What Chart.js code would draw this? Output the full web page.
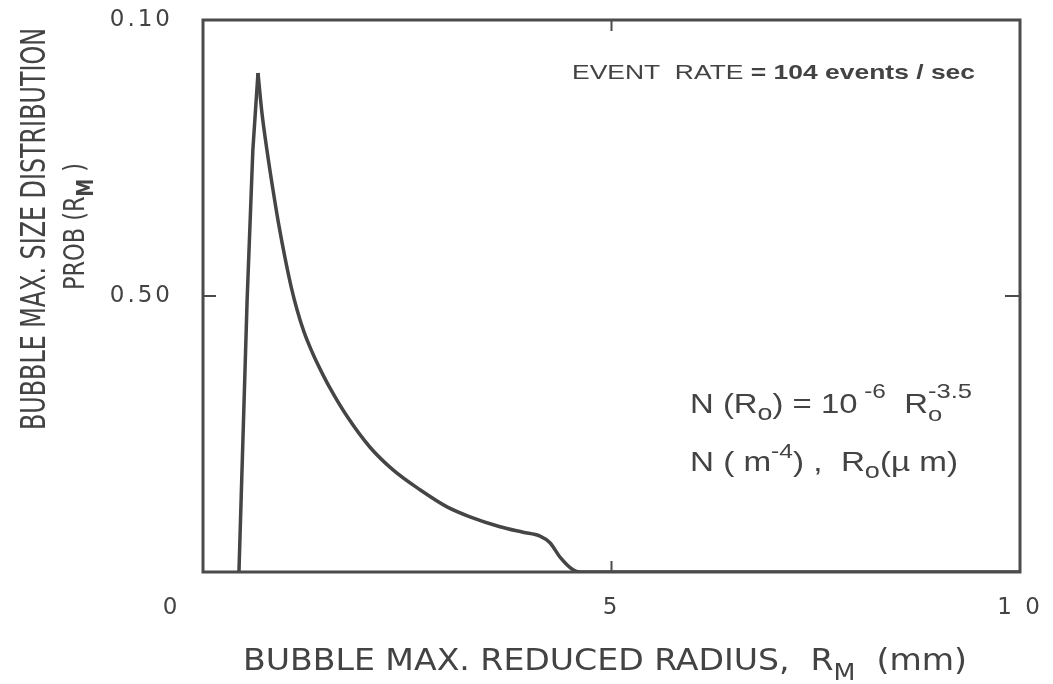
<!DOCTYPE html>
<html>
<head>
<meta charset="utf-8">
<script src="https://cdn.jsdelivr.net/npm/chart.js@4.4.1/dist/chart.umd.min.js"></script>
<style>
  html, body { margin: 0; padding: 0; background: #ffffff; }
  #wrap { width: 1053px; height: 684px; position: relative; }
</style>
</head>
<body>
<div id="wrap"><canvas id="c" width="1053" height="684"></canvas></div>
<script>
// ---- data ----
// rising edge (straight) up to the peak
const riseX = [0.44, 0.54, 0.61, 0.673];
const riseY = [0, 0.0493, 0.0764, 0.0904];
// decaying branch from the peak
const decayX = [0.673, 0.722, 0.783, 0.857, 0.930, 1.004, 1.077, 1.151, 1.236, 1.334, 1.432, 1.555, 1.763, 2.044, 2.326, 2.656, 2.987, 3.268, 3.635, 3.917, 4.125, 4.247, 4.37, 4.529, 4.614, 10];
const decayY = [0.0904, 0.0831, 0.0764, 0.0692, 0.0627, 0.0569, 0.0518, 0.0475, 0.0435, 0.0399, 0.0368, 0.0333, 0.0282, 0.0226, 0.0185, 0.0149, 0.0118, 0.0100, 0.0082, 0.0072, 0.0065, 0.0053, 0.0027, 0.0004, 0, 0];

const xTickValues = [0, 5, 10];
const xTickLabels = ['', '5', '1 0'];
const yTickValues = [0, 0.05, 0.10];
const yTickLabels = ['', '0.50', '0.10'];
const cornerLabel = '0';

const xTitle = ['BUBBLE MAX. REDUCED RADIUS,  R', 'M', '  (mm)'];
const yTitle1 = 'BUBBLE MAX. SIZE DISTRIBUTION';
const yTitle2 = ['PROB (R', 'M', ' )'];
const eventText = ['EVENT  RATE ', '= 104 events / sec'];

const INK = '#434343';
const TITLE_FONT = "'Liberation Sans Narrow', 'DejaVu Sans Condensed', 'Liberation Sans', Arial, sans-serif";
const BODY_FONT = "'Liberation Sans', Arial, sans-serif";

function drawRun(ctx, x, y, segs, family) {
  let cx = x;
  for (const s of segs) {
    ctx.font = `${s.weight || 'normal'} ${s.size}px ${family}`;
    if (s.stack) {
      const w1 = ctx.measureText(s.stack[0]).width;
      const w2 = ctx.measureText(s.stack[1]).width;
      ctx.fillText(s.stack[0], cx, y + s.dyTop);
      ctx.fillText(s.stack[1], cx, y + s.dyBot);
      cx += Math.max(w1, w2);
    } else {
      ctx.fillText(s.t, cx, y + (s.dy || 0));
      cx += ctx.measureText(s.t).width;
    }
  }
  return cx - x;
}
function runWidth(ctx, segs, family) {
  let w = 0;
  for (const s of segs) {
    ctx.font = `${s.weight || 'normal'} ${s.size}px ${family}`;
    if (s.stack) w += Math.max(ctx.measureText(s.stack[0]).width, ctx.measureText(s.stack[1]).width);
    else w += ctx.measureText(s.t).width;
  }
  return w;
}
function fitRun(ctx, x0, x1, y, segs, family) {
  const w = runWidth(ctx, segs, family);
  ctx.save();
  ctx.translate(x0, y);
  ctx.scale((x1 - x0) / w, 1);
  drawRun(ctx, 0, 0, segs, family);
  ctx.restore();
}

const decor = {
  id: 'decor',
  beforeDraw(chart) { chart.ctx.letterSpacing = '3px'; },
  beforeDatasetsDraw(chart) { chart.ctx.letterSpacing = '0px'; },
  afterDraw(chart) {
    const ctx = chart.ctx;
    const a = chart.chartArea;
    const xs = chart.scales.x, ys = chart.scales.y;
    ctx.save();
    ctx.letterSpacing = '0px';
    ctx.strokeStyle = '#4b4b4b';
    ctx.lineWidth = 3;
    ctx.strokeRect(a.left, a.top, a.right - a.left, a.bottom - a.top);
    ctx.lineWidth = 2;
    for (const v of xTickValues) {
      if (v === xs.min || v === xs.max) continue;
      const px = xs.getPixelForValue(v);
      ctx.beginPath(); ctx.moveTo(px, a.top); ctx.lineTo(px, a.top + 11); ctx.stroke();
      ctx.beginPath(); ctx.moveTo(px, a.bottom); ctx.lineTo(px, a.bottom - 11); ctx.stroke();
    }
    for (const v of yTickValues) {
      if (v === ys.min || v === ys.max) continue;
      const py = ys.getPixelForValue(v);
      ctx.beginPath(); ctx.moveTo(a.left, py); ctx.lineTo(a.left + 13, py); ctx.stroke();
      ctx.beginPath(); ctx.moveTo(a.right, py); ctx.lineTo(a.right - 15, py); ctx.stroke();
    }
    ctx.fillStyle = INK;
    ctx.textBaseline = 'alphabetic';
    ctx.font = '23px "DejaVu Sans"';
    ctx.textAlign = 'center';
    ctx.fillText(cornerLabel, xs.getPixelForValue(0) - 33, a.bottom + 42);
    ctx.textAlign = 'left';

    fitRun(ctx, 243, 967, 670, [
      {t: xTitle[0], size: 30},
      {t: xTitle[1], size: 23, dy: 10},
      {t: xTitle[2], size: 30}
    ], TITLE_FONT);

    ctx.save();
    ctx.translate(45, 430);
    ctx.rotate(-Math.PI / 2);
    fitRun(ctx, 0, 402, 0, [{t: yTitle1, size: 33}], TITLE_FONT);
    ctx.restore();
    ctx.save();
    ctx.translate(84, 290);
    ctx.rotate(-Math.PI / 2);
    fitRun(ctx, 0, 127, 0, [
      {t: yTitle2[0], size: 29},
      {t: yTitle2[1], size: 23, dy: 9, weight: 'bold'},
      {t: yTitle2[2], size: 29}
    ], TITLE_FONT);
    ctx.restore();

    fitRun(ctx, 572, 975, 79, [
      {t: eventText[0], size: 21},
      {t: eventText[1], size: 21, weight: 'bold'}
    ], BODY_FONT);

    fitRun(ctx, 690, 972, 413, [
      {t: 'N (R', size: 27},
      {t: 'o', size: 22, dy: 7},
      {t: ') = 10', size: 27},
      {t: ' -6', size: 20, dy: -15},
      {t: '  R', size: 27},
      {stack: ['-3.5', 'o'], size: 21, dyTop: -15, dyBot: 8}
    ], BODY_FONT);
    fitRun(ctx, 690, 958, 471, [
      {t: 'N ( m', size: 27},
      {t: '-4', size: 20, dy: -13},
      {t: ') ,  R', size: 27},
      {t: 'o', size: 22, dy: 7},
      {t: '(µ m)', size: 27}
    ], BODY_FONT);
    ctx.restore();
  }
};

const zeroPad = s => { s.paddingTop = 0; s.paddingBottom = 0; s.paddingLeft = 0; s.paddingRight = 0; };

const risePts = riseX.map((x, i) => ({x: x, y: riseY[i]}));
const decayPts = decayX.map((x, i) => ({x: x, y: decayY[i]}));

new Chart(document.getElementById('c'), {
  type: 'scatter',
  data: {
    datasets: [{
      data: risePts,
      showLine: true,
      borderColor: '#454545',
      borderWidth: 3.5,
      pointRadius: 0,
      tension: 0,
      borderJoinStyle: 'round',
      fill: false
    }, {
      data: decayPts,
      showLine: true,
      borderColor: '#454545',
      borderWidth: 3.5,
      pointRadius: 0,
      cubicInterpolationMode: 'monotone',
      borderJoinStyle: 'round',
      fill: false
    }]
  },
  options: {
    responsive: false,
    animation: false,
    devicePixelRatio: 1,
    layout: { padding: { left: 0, right: 33, top: 20, bottom: 0 } },
    plugins: { legend: { display: false }, tooltip: { enabled: false } },
    scales: {
      x: {
        type: 'linear', min: 0, max: 10,
        afterBuildTicks: s => { s.ticks = xTickValues.map(v => ({value: v})); },
        afterFit: s => { s.height = 112; zeroPad(s); },
        grid: { display: false, drawTicks: false },
        border: { display: false },
        ticks: {
          padding: 22,
          color: INK,
          font: { family: 'DejaVu Sans', size: 23 },
          maxRotation: 0,
          autoSkip: false,
          callback: (v) => { const i = xTickValues.indexOf(v); return i >= 0 ? xTickLabels[i] : ''; }
        }
      },
      y: {
        type: 'linear', min: 0, max: 0.10,
        afterBuildTicks: s => { s.ticks = yTickValues.map(v => ({value: v})); },
        afterFit: s => { s.width = 203; zeroPad(s); },
        grid: { display: false, drawTicks: false },
        border: { display: false },
        ticks: {
          padding: 30,
          color: INK,
          autoSkip: false,
          font: { family: 'DejaVu Sans', size: 23 },
          callback: (v) => { const i = yTickValues.findIndex(t => Math.abs(t - v) < 1e-9); return i >= 0 ? yTickLabels[i] : ''; }
        }
      }
    }
  },
  plugins: [decor]
});
</script>
</body>
</html>
